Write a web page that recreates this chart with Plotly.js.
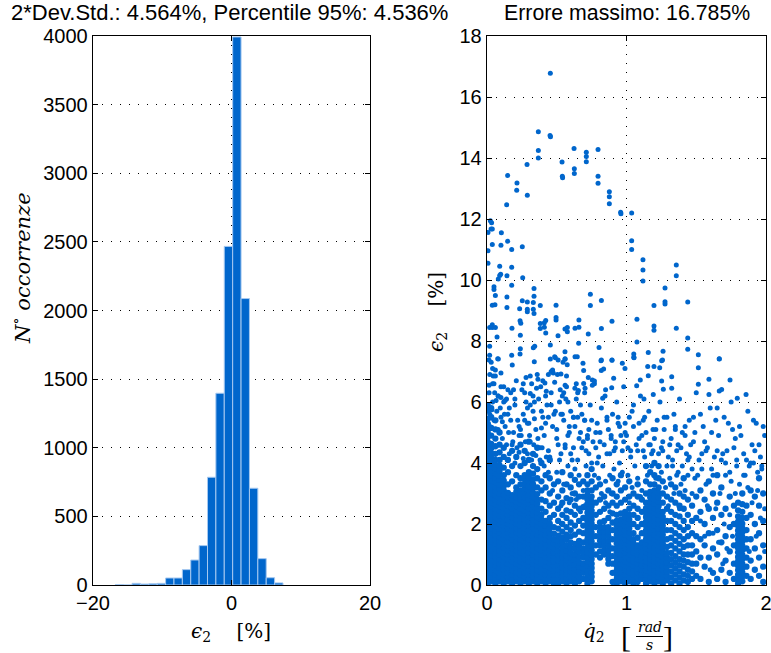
<!DOCTYPE html>
<html>
<head>
<meta charset="utf-8">
<script src="https://cdn.plot.ly/plotly-3.0.1.min.js"></script>
<style>html,body{margin:0;padding:0;background:#fff;}#chart{width:771px;height:653px;}</style>
</head>
<body>
<div id="chart"></div>
<script>
// ---------- Histogram of eps2 [%] ----------
var binCenters = [-16.18,-14.97,-13.76,-12.55,-11.33,-10.12,-8.91,-7.70,-6.49,-5.28,-4.07,-2.86,-1.65,-0.44,0.775,1.986,3.197,4.408,5.619,6.83];
var binCounts  = [2,0,12,7,9,12,51,51,112,182,287,785,1397,2467,3993,2087,705,192,53,15];
var binWidth = 1.211;

// ---------- Scatter: eps2 [%] vs qdot2 [rad/s] ----------
// isolated points (upper part)
var q2Sparse = [0.454,0.368,0.452,0.455,0.368,0.624,0.712,0.796,0.368,0.712,0.287,0.538,0.712,0.148,0.626,0.626,0.540,0.542,0.796,0.215,0.796,0.213,0.877,0.289,0.877,0.141,0.877,0.958,0.960,1.037,
0.024,0.033,0.029,0.038,0.007,0.103,0.148,0.038,0.100,0.253,0.177,0.007,1.037,1.037,0.007,1.118,1.357,0.091,0.177,1.118,0.098,0.091,0.143,1.357,0.081,0.256,1.118,0.050,0.050,0.337,1.276,0.177,0.741,0.060,0.143,0.337,0.253,0.289,0.332,0.820,1.276,1.276,1.439,0.038,0.057,0.382,0.495,0.741,1.197,0.143,0.234,0.289,0.289,0.332,0.337,0.495,0.495,0.421,0.411,0.382,0.659,0.896,0.237,0.242,1.075,0.038,0.019,0.038,0.060,0.179,0.382,0.411,0.559,0.576,0.576,0.631,0.659,0.820,1.197,1.197,1.357,0.421,0.726,0.239,0.509,0.072,1.439,1.075,0.657,0.454,0.019,0.342,0.332,0.803,0.239,1.439,1.262,0.559,1.156,1.052,1.052,0.177,0.019,0.237,1.515,0.485,0.454,0.631,0.647,0.559,0.077,1.665,0.820,0.896,1.258,
0.081,0.339,0.490,0.510,0.545,0.575,0.560,0.688,0.817,0.896,1.054,1.252,1.665,0.181,0.014,1.515,1.591,1.742,1.665,1.682,1.857,1.794,1.591,1.515,1.324,1.324,1.252,1.156,1.152,1.197,1.238,1.099,1.073,1.125,1.192,1.264,0.970,0.989,0.908,0.819,0.836,0.755,0.726,0.693,0.894,0.829,0.846,0.693,0.703,0.755,0.770,0.630,0.650,0.640,0.655,0.560,0.525,0.540,0.570,0.505,0.485,0.440,0.470,0.460,0.475,0.530,0.550,0.565,0.415,0.365,0.310,0.260,0.310,0.355,0.400,0.425,0.100,0.120,0.060,0.045,0.040,0.055,0.100,0.130,0.150,0.080,0.015];
var e2Sparse = [16.78,14.86,14.74,14.70,14.25,14.31,14.19,14.28,14.00,14.05,13.79,13.87,13.88,13.43,13.65,13.49,13.40,13.35,13.40,13.18,13.17,12.94,12.89,12.78,12.73,12.47,12.50,12.22,12.17,12.20,
11.94,11.88,11.67,11.67,11.56,11.55,11.27,11.16,11.14,11.09,11.00,10.96,11.29,11.00,10.55,10.66,10.49,10.45,10.42,10.33,10.19,10.15,10.14,10.14,10.03,10.07,9.97,9.78,9.69,9.72,9.74,9.83,9.53,9.49,9.44,9.47,9.32,9.28,9.26,9.33,9.29,9.21,9.28,9.17,9.19,9.16,9.17,9.16,9.16,9.10,9.06,9.04,8.96,9.04,8.90,8.77,8.69,8.67,8.60,8.57,8.69,8.65,8.66,8.58,8.71,8.53,8.44,8.44,8.44,8.42,8.41,8.45,8.39,8.44,8.30,8.42,8.45,8.41,8.49,8.35,8.42,8.26,8.23,8.19,8.17,8.13,8.10,7.97,7.93,7.87,7.83,7.83,7.78,7.79,7.75,7.73,7.66,7.65,7.62,7.57,7.47,7.53,7.53,7.57,7.55,7.48,7.41,7.48,7.48,7.40,7.42,7.42,7.38,7.38,7.38,
7.41,7.32,7.45,7.38,7.30,7.22,7.42,7.27,7.35,7.37,7.45,7.35,7.41,7.21,7.38,7.12,6.75,6.72,6.36,6.41,6.25,6.12,6.25,6.58,6.83,6.45,6.69,6.86,7.16,7.16,7.12,6.72,6.53,6.10,6.25,6.42,7.27,7.10,6.78,7.03,7.08,6.72,6.80,7.03,6.47,6.12,6.20,6.61,6.45,6.55,6.69,6.45,6.30,6.60,6.38,6.55,6.40,6.20,6.85,6.90,6.65,6.90,7.05,7.00,6.95,6.92,6.30,6.10,6.62,6.75,6.85,6.60,6.28,6.45,6.70,6.35,6.95,6.50,7.05,6.85,6.60,6.30,6.15,6.05,6.40,6.20,6.55];

// middle band (roughly 2.5 - 6.5 %)
var q2Mid = [0.010,0.020,0.040,0.015,0.050,0.020,0.070,0.100,0.130,0.110,0.140,0.080,0.120,0.160,0.040,0.060,0.030,0.100,0.170,0.200,0.220,0.190,0.240,0.260,0.280,0.250,0.300,0.330,0.350,0.370,0.320,0.360,0.280,0.210,0.400,0.430,0.410,0.440,0.470,0.460,0.490,0.520,0.500,0.530,0.550,0.570,0.580,0.600,0.620,0.640,0.630,0.660,0.680,0.700,0.710,0.730,0.740,0.760,0.770,0.790,0.800,0.820,0.840,0.850,0.870,0.880,0.900,0.920,0.930,0.950,0.970,0.980,1.000,1.020,1.030,1.050,1.070,1.090,1.100,1.120,1.140,1.160,1.180,1.200,1.220,1.240,1.250,1.270,1.300,1.320,1.340,1.360,1.380,1.400,1.430,1.450,1.480,1.500,1.520,1.550,1.580,1.600,1.630,1.660,1.700,1.720,1.750,1.780,1.810,1.840,1.870,1.900,1.930,1.960,1.990,
0.180,0.230,0.270,0.310,0.340,0.380,0.420,0.450,0.480,0.510,0.560,0.590,0.610,0.650,0.690,0.720,0.750,0.780,0.810,0.860,0.890,0.910,0.940,0.990,1.010,1.040,1.080,1.110,1.130,1.170,1.210,1.260,1.290,1.310,1.350,1.390,1.420,1.460,1.490,1.530,1.570,1.610,1.650,1.690,1.730,1.770,1.820,1.860,1.910,1.950,1.980,1.540,1.620,1.680,1.740,1.790,1.850,1.890,1.940,1.560,1.640,1.710,1.760,1.880,1.920,1.970,1.330,1.370,1.440,1.470,0.150,0.200,0.290,0.330,0.390,0.460,0.530,0.580,0.620,0.670,0.700,
0.020,0.050,0.080,0.110,0.035,0.065,0.095,0.125,0.155,0.185,0.215,0.245,0.275,0.305,0.335,0.365,0.395,0.425,0.160,0.200,0.230,0.260,0.290,0.320,0.350,0.380,0.410,0.440,0.170,0.230,0.290,0.340,0.390,0.440,0.140,0.190,0.270,0.310,0.385,0.420,
0.470,0.500,0.520,0.550,0.560,0.580,0.600,0.610,0.630,0.650,0.660,0.680,0.690,0.710,0.730,0.750,0.770,0.790,0.800,0.820,0.830,0.850,0.860,0.880,0.890,0.910,0.920,0.940,0.950,0.970,0.980,0.500,0.540,0.590,0.620,0.670,0.700,0.720,0.780,0.810,0.860,0.890,0.940,0.960,0.990,0.530,0.590,0.640,0.670,0.700,0.850,0.880,
1.010,1.030,1.040,1.060,1.080,1.090,1.110,1.130,1.150,1.160,1.180,1.190,1.210,1.230,1.250,1.260,1.280,1.290,1.310,1.330,1.340,1.360,1.370,1.390,1.400,1.420,1.440,1.450,1.470,1.490,1.050,1.120,1.190,1.270,1.350,1.420,1.480,1.020,1.100,1.300,1.380,
1.510,1.530,1.540,1.560,1.570,1.580,1.600,1.610,1.620,1.640,1.650,1.660,1.670,1.690,1.700,1.710,1.720,1.740,1.750,1.760,1.780,1.790,1.810,1.840,1.850,1.870,1.880,1.900,1.910,1.930,1.940,1.960,1.970,1.990,1.990];
var e2Mid = [5.30,5.60,6.00,6.30,6.60,6.90,5.70,5.50,5.20,4.80,4.60,6.20,6.00,5.80,7.10,6.85,7.30,6.50,6.30,5.90,5.40,5.00,5.10,5.60,6.00,6.40,5.30,5.70,5.10,6.10,6.60,6.90,6.80,6.70,5.50,5.90,4.90,4.40,5.20,6.30,5.70,6.00,4.80,4.30,5.40,6.50,4.90,5.70,4.50,6.10,5.20,4.80,5.60,6.30,4.40,5.10,5.90,4.70,6.60,5.30,4.20,5.80,4.60,6.40,5.10,4.30,5.60,4.70,6.00,5.20,4.40,6.50,4.90,5.50,4.20,5.90,4.60,5.30,6.20,4.40,5.00,5.70,4.30,4.80,5.40,6.00,4.50,5.10,4.20,4.80,5.60,4.40,6.10,5.00,4.30,5.40,4.70,6.30,4.10,5.20,4.50,5.80,4.20,4.90,5.50,4.40,6.00,4.80,5.20,4.30,5.70,4.60,5.30,4.20,4.90,
4.60,4.90,5.40,4.70,6.00,4.50,5.30,4.20,5.60,4.60,4.50,5.20,4.10,5.50,4.70,4.90,5.40,4.50,5.00,5.50,4.80,4.40,5.30,5.00,4.50,5.70,4.40,4.90,5.50,4.60,5.10,4.40,5.50,4.60,5.10,4.50,5.20,4.60,5.00,5.60,4.40,5.00,5.80,4.30,5.30,4.50,4.90,4.10,5.40,4.60,5.20,3.80,3.60,4.10,3.70,3.90,3.60,4.00,3.70,4.70,5.40,4.00,5.10,3.90,4.40,3.80,3.90,3.70,4.10,3.80,5.60,6.10,5.80,6.20,5.70,5.90,5.60,6.00,5.50,5.90,5.40,
5.20,5.40,5.10,5.35,5.75,6.05,5.80,5.60,5.00,4.70,4.50,4.90,4.70,4.90,4.60,4.80,4.50,4.20,4.30,4.00,4.35,4.15,4.30,4.10,4.25,4.10,3.90,3.70,5.40,5.20,5.30,5.45,5.15,5.50,6.10,6.40,6.30,5.90,6.50,6.20,
3.10,3.70,4.10,3.30,4.60,3.90,4.30,3.00,3.80,4.10,3.60,4.50,3.10,3.90,4.30,4.00,3.60,4.00,3.50,3.00,3.90,3.40,4.30,3.60,3.00,3.80,4.50,3.40,4.00,3.70,4.70,5.10,5.60,5.00,5.50,5.00,5.40,4.80,5.00,4.70,5.40,4.90,5.50,4.90,5.30,2.60,2.70,2.80,2.40,2.60,2.70,2.40,
3.60,4.40,3.20,3.90,3.50,4.80,3.10,4.20,3.60,4.60,3.90,4.40,3.50,4.30,3.70,4.70,3.20,3.90,3.50,4.10,3.00,3.60,4.60,3.30,3.90,3.10,3.60,4.20,3.00,3.50,5.20,5.40,5.10,5.50,5.20,4.90,5.50,2.70,2.90,2.60,2.50,
3.60,2.10,4.30,1.60,3.30,2.60,0.50,3.80,1.70,2.50,4.40,1.40,3.00,0.70,2.00,3.60,1.20,2.30,3.40,1.60,3.00,4.10,3.30,3.60,0.90,3.20,1.10,2.70,4.00,1.60,3.10,2.20,3.90,1.10,2.50];

// dense lower band: x of each column of points and the eps2 values read in that column
var denseQ = [0.005,0.03,0.06,0.09,0.12,0.15,0.18,0.21,0.24,0.27,0.30,0.33,0.36,0.39,0.42,0.45,0.48,0.51,0.54,0.57,0.60,0.63,0.66,0.69,0.72,0.75,0.78,0.81,0.84,0.87,0.90,0.93,0.96,0.99,1.02,1.05,1.08,1.11,1.14,1.17,1.20,1.23,1.26,1.29,1.32,1.35,1.38,1.41,1.44,1.47,1.50,1.53,1.56,1.59,1.62,1.65,1.68,1.71,1.74,1.77,1.80,1.83,1.86,1.89,1.92,1.95,1.98];
var denseE = [
[0.05,0.19,0.33,0.49,0.62,0.78,0.90,1.05,1.21,1.34,1.50,1.63,1.79,1.92,2.07,2.21,2.36,2.50,2.65,2.80,2.93,3.08,3.23,3.37,3.51,3.66,3.80,3.95,4.10,4.24,4.40,4.56,4.70,4.86,5.01,5.20,5.45,5.72,5.90],
[0.12,0.27,0.40,0.55,0.71,0.84,0.98,1.13,1.27,1.42,1.56,1.71,1.85,2.00,2.14,2.28,2.43,2.58,2.72,2.86,3.01,3.15,3.30,3.44,3.59,3.73,3.88,4.02,4.17,4.32,4.48,4.63,4.90,5.15,5.50,5.80],
[0.04,0.20,0.34,0.48,0.63,0.77,0.92,1.06,1.20,1.35,1.49,1.64,1.78,1.93,2.07,2.22,2.36,2.51,2.65,2.80,2.94,3.08,3.23,3.37,3.52,3.66,3.81,3.95,4.10,4.30,4.55,4.80,5.10,5.40],
[0.12,0.27,0.41,0.56,0.70,0.85,0.99,1.13,1.28,1.42,1.57,1.71,1.86,2.00,2.15,2.29,2.43,2.58,2.72,2.87,3.01,3.16,3.30,3.45,3.60,3.75,3.92,4.10,4.35,4.60,5.00],
[0.05,0.20,0.34,0.49,0.63,0.78,0.92,1.07,1.21,1.36,1.50,1.65,1.79,1.94,2.08,2.23,2.37,2.52,2.66,2.81,2.95,3.10,3.25,3.42,3.60,3.85,4.20,4.50],
[0.12,0.27,0.41,0.56,0.70,0.85,0.99,1.14,1.28,1.43,1.57,1.72,1.86,2.01,2.15,2.30,2.44,2.59,2.73,2.88,3.02,3.30,3.70,4.10],
[0.05,0.20,0.34,0.49,0.63,0.78,0.92,1.07,1.21,1.36,1.50,1.65,1.79,1.94,2.08,2.23,2.37,2.52,2.66,2.81,2.95,3.40,3.90,4.40],
[0.12,0.27,0.41,0.56,0.70,0.85,0.99,1.14,1.28,1.43,1.57,1.72,1.86,2.01,2.15,2.30,2.44,2.59,2.73,2.88,3.05,3.20,3.60,4.20],
[0.05,0.20,0.34,0.49,0.63,0.78,0.92,1.07,1.21,1.36,1.50,1.65,1.79,1.94,2.08,2.23,2.37,2.52,2.66,2.81,2.95,3.10,3.30,3.50,3.90,4.60],
[0.12,0.27,0.41,0.56,0.70,0.85,0.99,1.14,1.28,1.43,1.57,1.72,1.86,2.01,2.15,2.30,2.44,2.59,2.73,2.88,3.02,3.17,3.31,3.46,3.60,4.00,4.40],
[0.05,0.20,0.34,0.49,0.63,0.78,0.92,1.07,1.21,1.36,1.50,1.65,1.79,1.94,2.08,2.23,2.37,2.52,2.66,2.81,2.95,3.10,3.24,3.39,3.53,3.70,4.10,4.70],
[0.12,0.27,0.41,0.56,0.70,0.85,0.99,1.14,1.28,1.43,1.57,1.72,1.86,2.01,2.15,2.30,2.44,2.59,2.73,2.88,3.02,3.17,3.31,3.46,3.65,3.90,4.30],
[0.05,0.20,0.34,0.49,0.63,0.78,0.92,1.07,1.21,1.36,1.50,1.65,1.79,1.94,2.08,2.23,2.37,2.52,2.66,2.81,2.98,3.20,3.50,3.80,4.50],
[0.12,0.27,0.41,0.56,0.70,0.85,0.99,1.14,1.28,1.43,1.57,1.72,1.86,2.01,2.15,2.30,2.50,2.80,3.10,3.40,4.00],
[0.05,0.20,0.34,0.49,0.63,0.78,0.92,1.07,1.21,1.36,1.50,1.65,1.79,1.94,2.10,2.40,2.75,3.20,3.60],
[0.12,0.27,0.41,0.56,0.70,0.85,0.99,1.14,1.28,1.43,1.57,1.72,1.86,2.01,2.20,2.60,3.00,3.50,4.10],
[0.05,0.20,0.34,0.49,0.63,0.78,0.92,1.07,1.21,1.36,1.50,1.68,1.90,2.30,2.70,3.30],
[0.05,0.20,0.36,0.50,0.66,0.80,0.97,1.12,1.30,1.45,1.62,1.85,2.10,2.50,2.90,3.40],
[0.12,0.28,0.43,0.58,0.73,0.90,1.05,1.20,1.38,1.55,1.75,2.00,2.30,2.70,3.10,3.70],
[0.05,0.20,0.36,0.50,0.66,0.82,0.97,1.13,1.30,1.48,1.65,1.90,2.20,2.45,2.85,3.30],
[0.12,0.28,0.43,0.58,0.74,0.90,1.05,1.22,1.40,1.60,1.80,2.05,2.40,2.80,3.20,3.60],
[0.05,0.20,0.36,0.52,0.68,0.84,1.00,1.18,1.35,1.65,1.95,2.30,2.60,3.00,3.45],
[0.12,0.28,0.45,0.60,0.75,0.92,1.10,1.28,1.45,1.75,2.10,2.50,2.90,3.30],
[0.20,0.40,0.55,0.70,0.90,1.05,1.20,1.40,1.70,1.95,2.20,2.55,2.90,3.40],
[0.05,0.20,0.34,0.49,0.63,0.78,0.92,1.07,1.21,1.36,1.50,1.65,1.79,1.94,2.08,2.23,2.37,2.52,2.66,2.81,2.95,3.10,3.30,3.60],
[0.12,0.27,0.41,0.56,0.70,0.85,0.99,1.14,1.28,1.43,1.57,1.72,1.86,2.01,2.15,2.30,2.44,2.59,2.73,2.90,3.10,3.40,3.80],
[1.00,1.30,1.60,1.90,2.30,2.70,3.20],
[0.90,1.10,1.30,1.45,1.60,1.75,1.90,2.05,2.40,2.80,3.30],
[1.00,1.15,1.30,1.45,1.60,1.75,1.90,2.10,2.50,2.90],
[0.70,0.85,1.00,1.15,1.30,1.45,1.60,1.75,1.90,2.20,2.60,3.10],
[0.10,0.40,0.70,0.95,1.20,1.50,1.80,2.05,2.35,2.70,3.00,3.50],
[0.05,0.20,0.34,0.49,0.63,0.78,0.92,1.07,1.21,1.36,1.50,1.65,1.79,1.94,2.10,2.30,2.60,2.90,3.30],
[0.12,0.27,0.41,0.56,0.70,0.85,0.99,1.14,1.28,1.43,1.57,1.72,1.86,2.01,2.15,2.35,2.70,3.10,3.60],
[0.05,0.20,0.34,0.49,0.63,0.78,0.92,1.07,1.21,1.36,1.50,1.65,1.79,1.94,2.08,2.23,2.40,2.80,3.20],
[0.12,0.27,0.41,0.56,0.70,0.85,0.99,1.14,1.28,1.43,1.57,1.72,1.86,2.01,2.15,2.30,2.50,2.90,3.40],
[0.05,0.20,0.34,0.49,0.63,0.78,0.92,1.07,1.21,1.36,1.50,1.70,2.00,2.30,2.60,3.00],
[0.10,0.25,0.40,0.55,0.70,0.85,1.00,1.15,1.30,1.55,1.90,2.20,2.50,2.90,3.30],
[0.20,0.35,0.50,0.65,0.80,0.95,1.10,1.25,1.40,1.70,2.00,2.40,2.80],
[0.05,0.20,0.34,0.49,0.63,0.78,0.92,1.07,1.21,1.36,1.50,1.65,1.79,1.94,2.08,2.23,2.37,2.52,2.70,3.00,3.40,3.90],
[0.12,0.27,0.41,0.56,0.70,0.85,0.99,1.14,1.28,1.43,1.57,1.72,1.86,2.01,2.15,2.30,2.44,2.59,2.73,2.88,3.05,3.30,3.70],
[0.05,0.20,0.34,0.49,0.63,0.78,0.92,1.07,1.21,1.36,1.50,1.65,1.79,1.94,2.08,2.23,2.37,2.52,2.66,2.81,2.95,3.10,3.30,3.60,4.00],
[0.12,0.27,0.41,0.56,0.70,0.85,0.99,1.14,1.28,1.43,1.57,1.72,1.86,2.01,2.15,2.30,2.44,2.59,2.73,2.88,3.02,3.20,3.50,3.90],
[0.05,0.20,0.34,0.49,0.63,0.78,0.92,1.07,1.21,1.36,1.50,1.65,1.79,1.94,2.08,2.23,2.40,2.70,3.00,3.40],
[0.15,0.30,0.45,0.60,0.75,0.90,1.05,1.25,1.50,1.80,2.10,2.50,2.90],
[0.05,0.25,0.45,0.65,0.85,1.05,1.30,1.55,1.80,2.10,2.40,2.80,3.30],
[0.15,0.35,0.55,0.75,0.95,1.20,1.45,1.70,2.00,2.30,2.70,3.20],
[0.05,0.25,0.45,0.65,0.85,1.10,1.35,1.60,1.90,2.25,2.60,3.00],
[0.15,0.35,0.60,0.80,1.00,1.25,1.50,1.80,2.10,2.50,2.90,3.50],
[0.10,0.30,0.50,0.75,1.00,1.30,1.60,1.90,2.30,2.80],
[0.20,0.45,0.70,1.00,1.30,1.70,2.10,2.60],
[0.30,0.70,1.10,1.60,2.20,2.90],
[0.20,0.90,1.50,2.40,3.10],
[0.60,1.30,2.00,2.80],
[0.10,0.90,1.70,2.50,3.40],
[0.40,1.20,2.20,3.00],
[0.20,1.00,1.80,2.70,3.60],
[0.50,1.40,2.30,3.20],
[0.10,0.80,1.60,2.50],
[0.40,1.10,1.90,2.90],
[0.20,0.70,1.30,2.00,2.60],
[0.05,0.20,0.34,0.49,0.63,0.78,0.92,1.07,1.21,1.36,1.50,1.65,1.79,1.94,2.08,2.25,2.45,2.70],
[0.12,0.27,0.41,0.56,0.70,0.85,0.99,1.14,1.28,1.43,1.57,1.72,1.86,2.01,2.20,2.40,2.65,3.00],
[0.30,0.60,0.90,1.20,1.50,1.80,2.20,2.60],
[0.20,0.80,1.50,2.30,3.10],
[0.50,1.20,2.00,2.90],
[0.30,0.90,1.70,2.60,3.50],
[0.10,0.60,1.30,2.10,3.00]
];

// ---------- assemble scatter points ----------
var qDense = [], eDense = [];
denseQ.forEach(function(q, i){ denseE[i].forEach(function(e){ qDense.push(q); eDense.push(e); }); });
var qLoose = q2Mid.concat(q2Sparse);
var eLoose = e2Mid.concat(e2Sparse);

var BLUE = '#0066cc';
var FONT = 'Liberation Sans, Arial, Helvetica, sans-serif';
var SERIF = 'DejaVu Serif, Liberation Serif, serif';

var traces = [
  {type:'bar', x:binCenters, y:binCounts, width:binWidth, xaxis:'x', yaxis:'y',
   marker:{color:BLUE, line:{color:'rgb(165,200,240)', width:1}}, hoverinfo:'skip'},
  {type:'scatter', mode:'markers', x:qDense, y:eDense, xaxis:'x2', yaxis:'y2',
   marker:{color:BLUE, size:6.3, line:{width:0}}, hoverinfo:'skip'},
  {type:'scatter', mode:'markers', x:qLoose, y:eLoose, xaxis:'x2', yaxis:'y2',
   marker:{color:BLUE, size:5, line:{width:0}}, hoverinfo:'skip'}
];

function ax(extra){
  var base = {showline:true, linecolor:'#000', linewidth:1.3, mirror:'ticks',
    ticks:'inside', ticklen:5, tickwidth:1, tickcolor:'#000',
    showgrid:true, gridcolor:'#000', gridwidth:1, griddash:'1px,8px',
    zeroline:false, tickfont:{family:FONT, size:20, color:'#000'}, fixedrange:true,
    ticklabeloverflow:'allow'};
  for (var k in extra) base[k] = extra[k];
  return base;
}

function px(x){ return x/771; }
function py(y){ return 1 - y/653; }

var annotations = [
  {text:'2*Dev.Std.: 4.564%, Percentile 95%: 4.536%', x:px(229), y:py(13), xref:'paper', yref:'paper', showarrow:false, xanchor:'center', yanchor:'middle', font:{family:FONT, size:22, color:'#000'}},
  {text:'Errore massimo: 16.785%', x:px(627), y:py(13), xref:'paper', yref:'paper', showarrow:false, xanchor:'center', yanchor:'middle', font:{family:FONT, size:21.3, color:'#000'}},
  {text:'<i>N</i><sup>∘</sup> <i>occorrenze</i>', x:px(21), y:py(268), xref:'paper', yref:'paper', showarrow:false, textangle:-90, xanchor:'center', yanchor:'middle', font:{family:SERIF, size:21, color:'#000'}},
  {text:'<i>ϵ</i><sub>2</sub>    [%]', x:px(437), y:py(312), xref:'paper', yref:'paper', showarrow:false, textangle:-90, xanchor:'center', yanchor:'middle', font:{family:SERIF, size:20, color:'#000'}},
  {text:'<i>ϵ</i><sub>2</sub>    [%]', x:px(231), y:py(632), xref:'paper', yref:'paper', showarrow:false, xanchor:'center', yanchor:'middle', font:{family:SERIF, size:20, color:'#000'}},
  {text:'<i>q̇</i><sub>2</sub>', x:px(594), y:py(632), xref:'paper', yref:'paper', showarrow:false, xanchor:'center', yanchor:'middle', font:{family:SERIF, size:20, color:'#000'}},
  {text:'[', x:px(626), y:py(636), xref:'paper', yref:'paper', showarrow:false, xanchor:'center', yanchor:'middle', font:{family:'Liberation Serif, serif', size:30, color:'#000'}},
  {text:']', x:px(668), y:py(636), xref:'paper', yref:'paper', showarrow:false, xanchor:'center', yanchor:'middle', font:{family:'Liberation Serif, serif', size:30, color:'#000'}},
  {text:'<i>rad</i>', x:px(649.5), y:py(627), xref:'paper', yref:'paper', showarrow:false, xanchor:'center', yanchor:'middle', font:{family:SERIF, size:14, color:'#000'}},
  {text:'<i>s</i>', x:px(649.5), y:py(645), xref:'paper', yref:'paper', showarrow:false, xanchor:'center', yanchor:'middle', font:{family:SERIF, size:14, color:'#000'}}
];

var layout = {
  width:771, height:653, margin:{l:0, r:0, t:0, b:0},
  paper_bgcolor:'#fff', plot_bgcolor:'#fff', showlegend:false,
  font:{family:FONT, size:20, color:'#000'},
  bargap:0,
  xaxis: ax({domain:[px(93), px(370)], range:[-20,20], tickvals:[-20,0,20], anchor:'y'}),
  yaxis: ax({domain:[py(585), py(36)], range:[0,4000], dtick:500, anchor:'x'}),
  xaxis2: ax({domain:[px(487), px(766)], range:[0,2], tickvals:[0,1,2], anchor:'y2'}),
  yaxis2: ax({domain:[py(585), py(36)], range:[0,18], dtick:2, anchor:'x2'}),
  annotations: annotations,
  shapes: [
    {type:'line', xref:'paper', yref:'paper', x0:px(636), x1:px(663), y0:py(636.5), y1:py(636.5), line:{color:'#000', width:1}}
  ]
};

Plotly.newPlot('chart', traces, layout, {displayModeBar:false, staticPlot:true});
</script>
</body>
</html>
